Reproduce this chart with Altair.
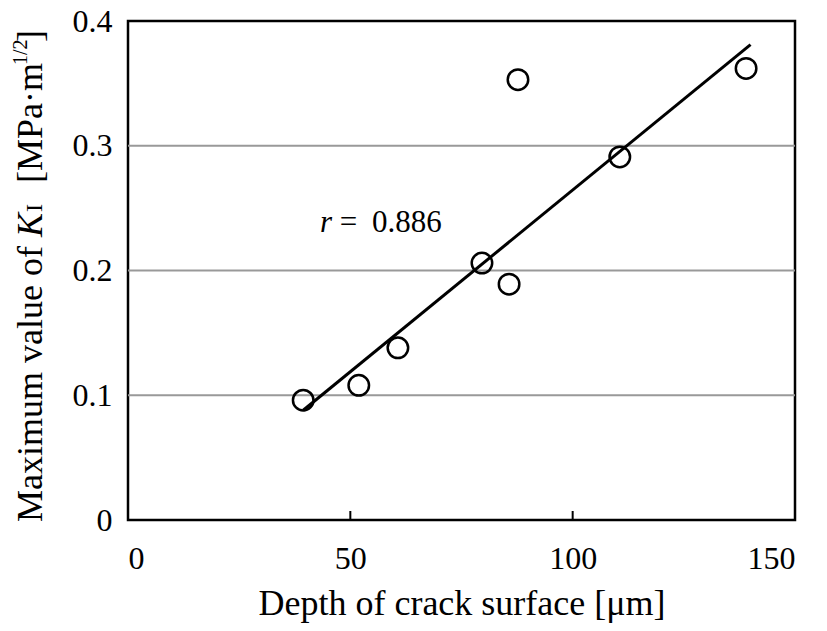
import altair as alt
import pandas as pd

# data
depth = [39.4, 51.9, 60.7, 79.6, 85.7, 87.7, 110.6, 139.0]
kmax = [0.096, 0.108, 0.138, 0.206, 0.189, 0.353, 0.291, 0.362]
fit_x = [39.4, 140.0]
fit_y = [0.088, 0.381]
grid_vals = [0.1, 0.2, 0.3]
xtick_vals = [50, 100]

FONT = "Liberation Serif"
W, H = 667, 499

pts = pd.DataFrame({"depth": depth, "k": kmax})
fit = pd.DataFrame({"depth": fit_x, "k": fit_y})
grid = pd.DataFrame({"k": grid_vals})
xt = pd.DataFrame({"depth": xtick_vals})

xscale = alt.Scale(domain=[0, 150], nice=False, zero=False)
yscale = alt.Scale(domain=[0, 0.4], nice=False, zero=False)

xaxis = alt.Axis(values=[0, 50, 100, 150], title="Depth of crack surface [μm]",
                 labelPadding=23, titlePadding=12)
yaxis = alt.Axis(values=[0, 0.1, 0.2, 0.3, 0.4], title=None,
                 labelExpr="datum.value == 0 ? '0' : format(datum.value, '.1f')",
                 labelPadding=16)

gridl = alt.Chart(grid).mark_rule(color="#999999", strokeWidth=2).encode(
    y=alt.Y("k:Q", scale=yscale, axis=yaxis)
)

ticks = alt.Chart(xt).mark_rule(color="black", strokeWidth=2).encode(
    x=alt.X("depth:Q", scale=xscale, axis=xaxis),
    y=alt.value(H), y2=alt.value(H - 9)
)

line = alt.Chart(fit).mark_line(color="black", strokeWidth=3).encode(
    x=alt.X("depth:Q", scale=xscale, axis=xaxis),
    y=alt.Y("k:Q", scale=yscale, axis=yaxis)
)

points = alt.Chart(pts).mark_point(shape="circle", filled=False, color="black",
                                   strokeWidth=2.5, size=420, opacity=1).encode(
    x=alt.X("depth:Q", scale=xscale, axis=xaxis),
    y=alt.Y("k:Q", scale=yscale, axis=yaxis)
)

# correlation annotation: r (italic), "=", value
ann = pd.DataFrame({"depth": [43.2, 47.6, 54.9], "k": [0.231, 0.231, 0.231],
                    "t": ["r", "=", "0.886"]})
ann_layers = []
for i, st in enumerate(["italic", "normal", "normal"]):
    ann_layers.append(
        alt.Chart(ann.iloc[[i]]).mark_text(font=FONT, fontSize=31, fontStyle=st,
                                           align="left", baseline="alphabetic",
                                           color="black").encode(
            x=alt.X("depth:Q", scale=xscale, axis=xaxis),
            y=alt.Y("k:Q", scale=yscale, axis=yaxis), text="t:N")
    )

# rotated y-axis title composed of pieces (plot-relative pixel anchors)
title_parts = [
    ("Maximum value of", "normal", 36, -86, 501),
    ("K", "italic", 36, -86, 216),
    ("I", "normal", 24, -86, 191),
    ("[MPa·m", "normal", 36, -86, 162),
    ("1/2", "normal", 20, -101, 44),
    ("]", "normal", 36, -86, 21),
]
tlayers = []
for txt, st, fs, px, py in title_parts:
    tlayers.append(
        alt.Chart(pd.DataFrame({"t": [txt]})).mark_text(
            font=FONT, fontSize=fs, fontStyle=st, angle=270, align="left",
            baseline="alphabetic", color="black"
        ).encode(x=alt.value(px), y=alt.value(py), text="t:N")
    )

chart = alt.layer(gridl, ticks, line, points, *ann_layers, *tlayers).properties(
    width=W, height=H,
    autosize=alt.AutoSizeParams(type="none"),
    padding={"left": 120, "top": 13, "right": 20, "bottom": 103},
    background="white",
).configure(font=FONT).configure_axis(
    labelFont=FONT, labelFontSize=32, labelColor="black",
    titleFont=FONT, titleFontSize=36, titleFontWeight="normal", titleColor="black",
    ticks=False, domain=False, grid=False
).configure_text(font=FONT).configure_view(stroke="black", strokeWidth=2.5)

chart.save("out.html", embed_options={"renderer": "svg", "actions": False})
